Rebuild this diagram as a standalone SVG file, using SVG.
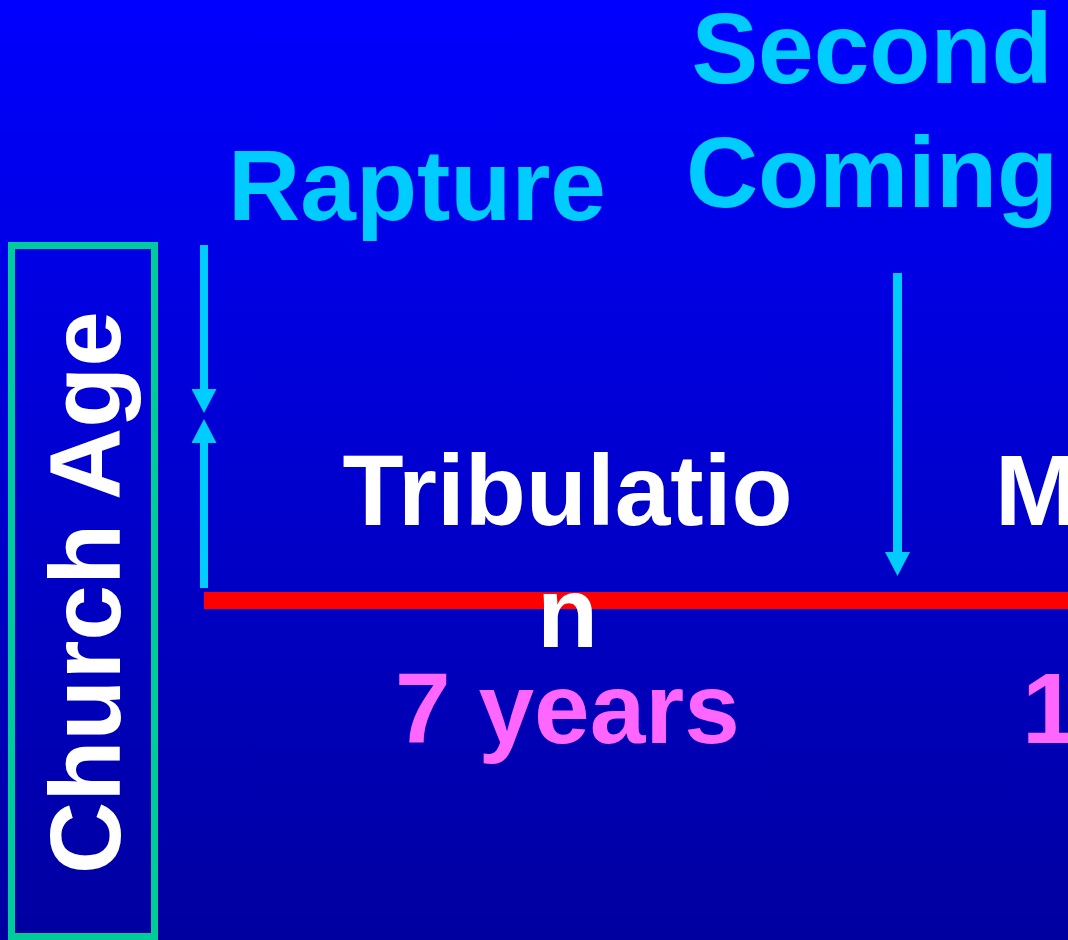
<svg xmlns="http://www.w3.org/2000/svg" width="1068" height="940" viewBox="0 0 1068 940">
  <style>
    .t { font-family: "Liberation Sans", Arial, sans-serif; font-weight: bold; font-size: 100px; }
    .cyan { fill: #00CCFF; }
    .white { fill: #FFFFFF; }
    .pink { fill: #FF66FF; }
    .arrow { stroke: #00CCFF; fill: none; marker-end: url(#head); }
  </style>
  <defs>
    <linearGradient id="bg" x1="0" y1="0" x2="0" y2="1">
      <stop offset="0" stop-color="#0000FF"/>
      <stop offset="1" stop-color="#0000A0"/>
    </linearGradient>
    <marker id="head" viewBox="0 0 24 25" refX="0" refY="12.5" markerWidth="24" markerHeight="25" markerUnits="userSpaceOnUse" orient="auto">
      <path d="M0,0 L24,12.5 L0,25 Z" fill="#00CCFF"/>
    </marker>
  </defs>
  <rect x="0" y="0" width="1068" height="940" fill="url(#bg)"/>

  <g id="church-age">
    <rect x="11.5" y="245.5" width="143" height="691" fill="none" stroke="#00CC99" stroke-width="7"/>
    <text class="t white" text-anchor="middle" transform="translate(120,592.5) rotate(-90)">Church Age</text>
  </g>

  <g id="timeline">
    <rect x="204" y="592" width="864" height="17" fill="#FF0000"/>
  </g>

  <g id="rapture">
    <text class="t cyan" x="417" y="220" text-anchor="middle">Rapture</text>
  </g>

  <g id="second-coming">
    <text class="t cyan" x="872" y="83" text-anchor="middle">Second</text>
    <text class="t cyan" x="872" y="207" text-anchor="middle">Coming</text>
  </g>

  <g id="tribulation">
    <text class="t white" x="567.5" y="525" text-anchor="middle">Tribulatio</text>
    <text class="t white" x="567.5" y="647" text-anchor="middle">n</text>
    <text class="t pink" x="567.5" y="743" text-anchor="middle">7 years</text>
  </g>

  <g id="millennium">
    <text class="t white" x="995" y="525">M</text>
    <text class="t pink" x="1022" y="743">1</text>
  </g>

  <g id="connectors">
    <line class="arrow" x1="204" y1="245" x2="204" y2="389" stroke-width="8"/>
    <line class="arrow" x1="204" y1="588" x2="204" y2="443" stroke-width="8"/>
    <line class="arrow" x1="897.5" y1="273" x2="897.5" y2="552" stroke-width="9"/>
  </g>
</svg>
